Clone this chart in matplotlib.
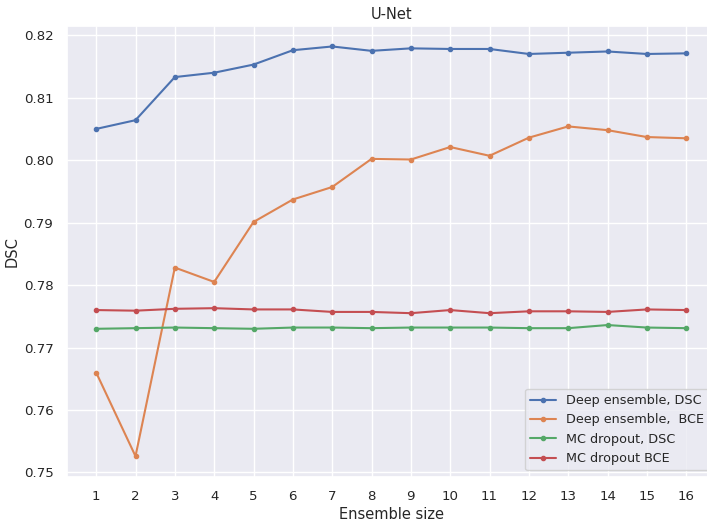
import matplotlib
matplotlib.use("Agg")
import matplotlib.pyplot as plt
import seaborn as sns

sns.set_theme(style="darkgrid", rc={
    "xtick.labelsize": 9.6,
    "ytick.labelsize": 9.6,
    "axes.labelsize": 10.5,
    "axes.titlesize": 10.5,
    "legend.fontsize": 9.2,
})

ensemble_size = list(range(1, 17))

deep_ensemble_dsc = [0.8050, 0.8064, 0.8133, 0.8140, 0.8153, 0.8176, 0.8182, 0.8175,
                     0.8179, 0.8178, 0.8178, 0.8170, 0.8172, 0.8174, 0.8170, 0.8171]
deep_ensemble_bce = [0.7660, 0.7526, 0.7828, 0.7805, 0.7901, 0.7937, 0.7957, 0.8002,
                     0.8001, 0.8021, 0.8007, 0.8036, 0.8054, 0.8048, 0.8037, 0.8035]
mc_dropout_dsc = [0.7730, 0.7731, 0.7732, 0.7731, 0.7730, 0.7732, 0.7732, 0.7731,
                  0.7732, 0.7732, 0.7732, 0.7731, 0.7731, 0.7736, 0.7732, 0.7731]
mc_dropout_bce = [0.7760, 0.7759, 0.7762, 0.7763, 0.7761, 0.7761, 0.7757, 0.7757,
                  0.7755, 0.7760, 0.7755, 0.7758, 0.7758, 0.7757, 0.7761, 0.7760]

labels = ["Deep ensemble, DSC", "Deep ensemble,  BCE", "MC dropout, DSC", "MC dropout BCE"]

fig = plt.figure(figsize=(7.07, 5.25), dpi=100)
ax = fig.add_axes([0.0943, 0.092, 0.918, 0.8585])

for series, label in zip([deep_ensemble_dsc, deep_ensemble_bce, mc_dropout_dsc, mc_dropout_bce], labels):
    ax.plot(ensemble_size, series, marker=".", markersize=6, label=label)

ax.set_xticks(ensemble_size)
ax.set_title("U-Net", pad=5)
ax.set_xlabel("Ensemble size", labelpad=3)
ax.set_ylabel("DSC", labelpad=3)
ax.legend(loc="lower right")

fig.savefig("out.png", dpi=100)
